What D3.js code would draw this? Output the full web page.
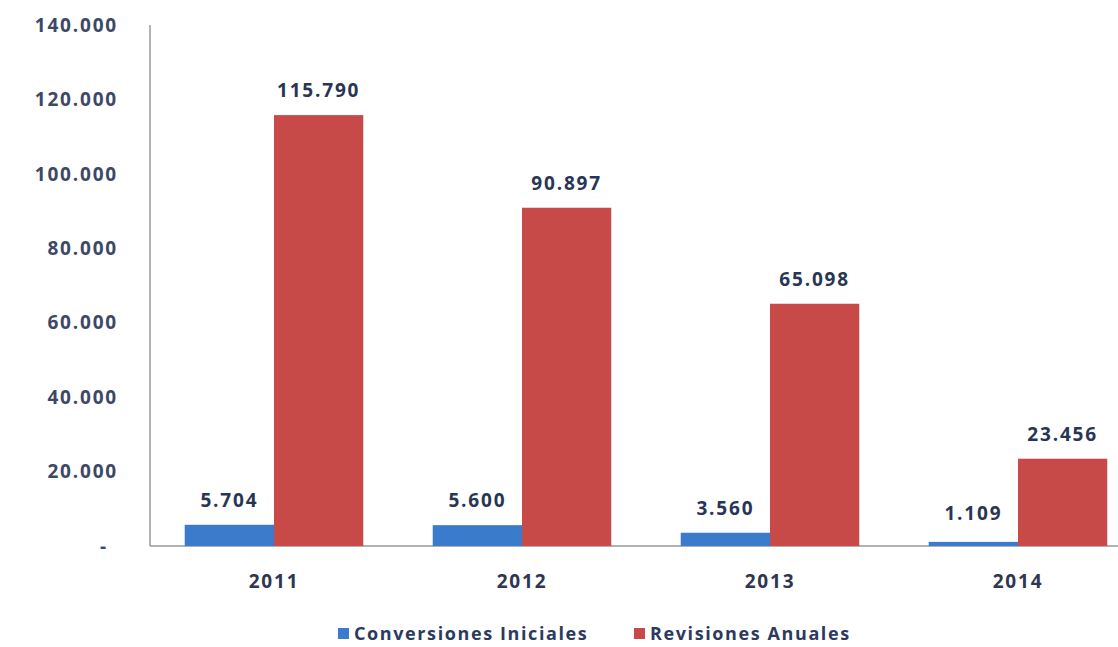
<!DOCTYPE html>
<html><head><meta charset="utf-8">
<script src="https://cdn.jsdelivr.net/npm/d3@7"></script>
<style>body{margin:0;background:#fff;} svg{display:block;}</style>
</head><body>
<svg id="c" width="1118" height="647"></svg>
<script>
const years = ["2011","2012","2013","2014"];
const conversiones = [5704, 5600, 3560, 1109];
const revisiones = [115790, 90897, 65098, 23456];
const yTicks = [0, 20000, 40000, 60000, 80000, 100000, 120000, 140000];
const seriesNames = ["Conversiones Iniciales", "Revisiones Anuales"];
const colors = ["#3b7bcc", "#c84a48"];

const svg = d3.select("#c");
const x0 = 150, x1 = 1142, yTop = 25, yBot = 546;
const x = d3.scaleBand().domain(years).range([x0, x1]).paddingInner(0.28).paddingOuter(0.14);
const xs = d3.scaleBand().domain([0,1]).range([0, x.bandwidth()]);
const y = d3.scaleLinear().domain([0, 140000]).range([yBot, yTop]);
const fmt = v => v === 0 ? "-" : d3.format(",")(v).replace(/,/g, ".");
const font = "'Open Sans', Lato, sans-serif";

// axes
svg.append("line").attr("x1", x0).attr("x2", x0).attr("y1", yTop).attr("y2", yBot)
  .attr("stroke", "#999").attr("stroke-width", 1.5);
svg.append("line").attr("x1", x0).attr("x2", 1118).attr("y1", yBot).attr("y2", yBot)
  .attr("stroke", "#999").attr("stroke-width", 1.5);

svg.selectAll(".yt").data(yTicks).enter().append("text")
  .attr("x", d => d === 0 ? 108 : 118).attr("y", d => y(d)).attr("dy", "0.35em")
  .attr("text-anchor", "end").attr("font-family", font).attr("font-weight", "bold")
  .attr("font-size", 19).attr("letter-spacing", 1.8).attr("fill", "#3d4866").text(fmt);

svg.selectAll(".xt").data(years).enter().append("text")
  .attr("x", d => x(d) + x.bandwidth()/2).attr("y", 588)
  .attr("text-anchor", "middle").attr("font-family", font).attr("font-weight", "bold")
  .attr("font-size", 19).attr("letter-spacing", 1.8).attr("fill", "#2e3650").text(d => d);

const series = [conversiones, revisiones];
series.forEach((vals, si) => {
  const g = svg.append("g");
  g.selectAll("rect").data(vals).enter().append("rect")
    .attr("x", (d, i) => x(years[i]) + xs(si))
    .attr("width", xs.bandwidth())
    .attr("y", d => y(d)).attr("height", d => yBot - y(d))
    .attr("fill", colors[si]);
  g.selectAll("text").data(vals).enter().append("text")
    .attr("x", (d, i) => x(years[i]) + xs(si) + xs.bandwidth()/2)
    .attr("y", d => Math.min(y(d), yBot - 8) - 18)
    .attr("text-anchor", "middle").attr("font-family", font).attr("font-weight", "bold")
    .attr("font-size", 19).attr("letter-spacing", 1.8).attr("fill", "#283554").text(fmt);
});

// legend
const leg = [{x: 338, t: seriesNames[0]}, {x: 634, t: seriesNames[1]}];
leg.forEach((l, i) => {
  svg.append("rect").attr("x", l.x).attr("y", 628).attr("width", 11).attr("height", 11).attr("fill", colors[i]);
  svg.append("text").attr("x", l.x + 16).attr("y", 640).attr("font-family", font).attr("font-weight", "bold")
    .attr("font-size", 18).attr("letter-spacing", 1.6).attr("fill", "#2c3a5e").text(l.t);
});
</script>
</body></html>
